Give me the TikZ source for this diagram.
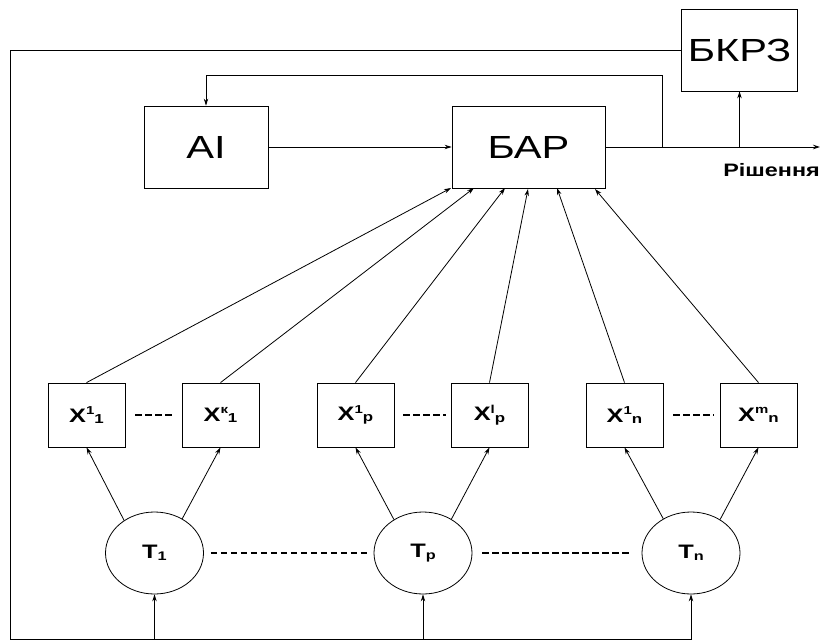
\documentclass[tikz,border=0pt]{standalone}
\usepackage{fontspec}
\setmainfont[FakeStretch=1.3]{Liberation Sans}
\usetikzlibrary{arrows.meta,calc,shapes.geometric}
\newcommand{\xlab}[2]{X\raisebox{7.5pt}{\fontsize{11.5}{11}\selectfont #1}\raisebox{-1.2pt}{\fontsize{13}{13}\selectfont #2}}
\newcommand{\tlab}[1]{T\raisebox{-1.5pt}{\fontsize{12.5}{12}\selectfont #1}}
\begin{document}
\begin{tikzpicture}[x=1pt,y=-1pt,
  ln/.style={line width=0.8pt},
  arr/.style={ln,-{Stealth[length=7pt,width=4.5pt]}},
  bigbox/.style={draw,ln,rectangle,inner sep=0pt,font=\fontsize{32}{34}\selectfont},
  xbox/.style={draw,ln,rectangle,minimum width=77pt,minimum height=64pt,inner sep=0pt,font=\fontsize{19.5}{20}\selectfont\bfseries},
  tell/.style={draw,ln,ellipse,minimum width=98pt,minimum height=82pt,inner sep=0pt,font=\fontsize{19.5}{21}\selectfont\bfseries},
  dsh/.style={line width=1.1pt,dash pattern=on 6.5pt off 3.5pt}]
\useasboundingbox (0,0) rectangle (822,642);
% top blocks
\node[bigbox,minimum width=116pt,minimum height=82pt] (bkrz) at (739.5,50) {БКРЗ};
\node[bigbox,minimum width=124pt,minimum height=82pt] (ai) at (206,147) {AI};
\node[bigbox,minimum width=153pt,minimum height=82pt] (bap) at (528.5,147) {БАР};
% X boxes
\node[xbox] (x11) at (86.5,415) {\xlab{1}{1}};
\node[xbox] (xk1) at (220.5,415) {\xlab{к}{1}};
\node[xbox] (x1p) at (355.5,415) {\xlab{1}{p}};
\node[xbox] (xlp) at (489.5,415) {\xlab{l}{p}};
\node[xbox] (x1n) at (624.5,415) {\xlab{1}{n}};
\node[xbox] (xmn) at (758.5,415) {\xlab{m}{n}};
% T ellipses
\node[tell] (t1) at (154.5,553) {\tlab{1}};
\node[tell] (tp) at (423,553) {\tlab{p}};
\node[tell] (tn) at (691,553) {\tlab{n}};
% coordinates
\coordinate (out) at (820,147);
\coordinate (fb) at (662,147);
\coordinate (fbt) at (662,75);
\coordinate (bk) at (739.5,147);
\coordinate (lt) at (10,50);
\coordinate (lb) at (10,639);
\coordinate (b1) at (451,188);
\coordinate (b2) at (474,188);
\coordinate (b3) at (505,188);
\coordinate (b4) at (528,189);
\coordinate (b5) at (557,188);
\coordinate (b6) at (595,189);
% output label
\node[anchor=east,inner sep=0pt,font=\fontsize{18}{19}\selectfont\bfseries] (res) at (820,170.5) {Рішення};
% connectors top
\draw[arr] (ai) -- (bap);
\draw[arr] (bap) -- (out);
\draw[arr] (bk) -- (bkrz.south);
\draw[arr] (fb) -- (fbt) -| (ai.north);
\draw[arr] (bkrz.west) -- (lt) -- (lb) -| (tn.south);
\draw[arr] (t1.south |- lb) -- (t1.south);
\draw[arr] (tp.south |- lb) -- (tp.south);
% X to BAP
\draw[arr] (x11.north) -- (b1);
\draw[arr] (xk1.north) -- (b2);
\draw[arr] (x1p.north) -- (b3);
\draw[arr] (xlp.north) -- (b4);
\draw[arr] (x1n.north) -- (b5);
\draw[arr] (xmn.north) -- (b6);
% T to X
\draw[arr] (t1.133) -- (x11.south);
\draw[arr] (t1.51) -- (xk1.south);
\draw[arr] (tp.131) -- (x1p.south);
\draw[arr] (tp.50) -- (xlp.south);
\draw[arr] (tn.129) -- (x1n.south);
\draw[arr] (tn.49) -- (xmn.south);
% dashed
\draw[dsh,shorten <=10pt,shorten >=7pt] (x11) -- (xk1);
\draw[dsh,shorten <=9pt,shorten >=5pt] (x1p) -- (xlp);
\draw[dsh,shorten <=10pt,shorten >=6pt] (x1n) -- (xmn);
\draw[dsh,shorten <=7pt,shorten >=7pt] (t1) -- (tp);
\draw[dsh,shorten <=10pt,shorten >=10pt] (tp) -- (tn);
\end{tikzpicture}
\end{document}
